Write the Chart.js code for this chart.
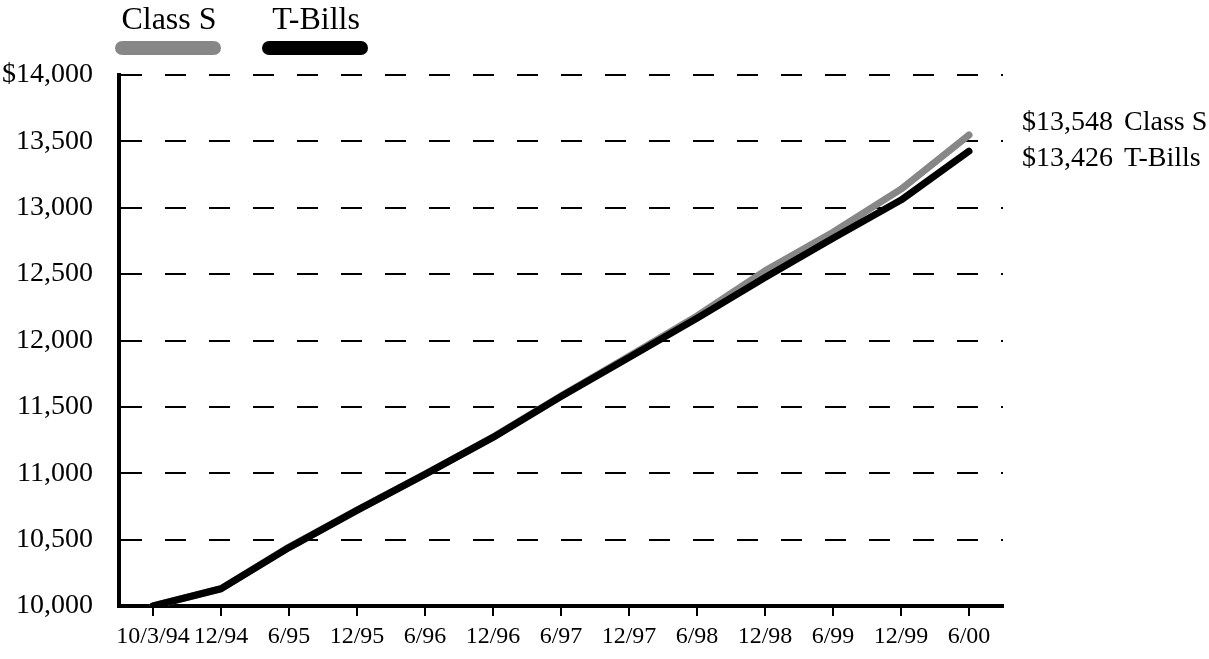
<!DOCTYPE html>
<html>
<head>
<meta charset="utf-8">
<script src="https://cdn.jsdelivr.net/npm/chart.js@4.4.0/dist/chart.umd.min.js"></script>
<style>
  html, body { margin: 0; padding: 0; background: #fff; }
  #wrap { width: 1209px; height: 659px; position: relative; }
</style>
</head>
<body>
<div id="wrap"><canvas id="myChart" width="1209" height="659"></canvas></div>
<script>
const categorias = ["10/3/94", "12/94", "6/95", "12/95", "6/96", "12/96", "6/97", "12/97", "6/98", "12/98", "6/99", "12/99", "6/00"];
const classS = [10000, 10130, 10444, 10723, 10994, 11273, 11582, 11882, 12185, 12525, 12815, 13140, 13548];
const tBills = [10000, 10130, 10440, 10720, 10992, 11270, 11578, 11872, 12168, 12475, 12770, 13058, 13426];
const nomes = ["Class S", "T-Bills"];
const cores = ["#878787", "#000000"];

const fonte = "Liberation Serif";

// legenda no topo: texto acima, barra grossa embaixo
const legendaTopo = {
  id: "legendaTopo",
  afterDraw(chart) {
    const ctx = chart.ctx;
    const itens = [
      { x1: 115, x2: 221 },
      { x1: 262, x2: 368 },
    ];
    ctx.save();
    ctx.font = "32px " + fonte;
    ctx.textAlign = "center";
    ctx.textBaseline = "alphabetic";
    for (let i = 0; i < itens.length; i++) {
      const it = itens[i];
      ctx.fillStyle = "#000";
      ctx.fillText(nomes[i], (it.x1 + it.x2) / 2 + 1, 29);
      ctx.strokeStyle = cores[i];
      ctx.lineWidth = 14;
      ctx.lineCap = "round";
      ctx.beginPath();
      ctx.moveTo(it.x1 + 7, 48);
      ctx.lineTo(it.x2 - 7, 48);
      ctx.stroke();
    }
    ctx.restore();
  },
};

// valores finais do lado direito
const rotulosFinais = {
  id: "rotulosFinais",
  afterDraw(chart) {
    const ctx = chart.ctx;
    const desloc = [-12, 7];
    ctx.save();
    ctx.font = "28px " + fonte;
    ctx.textAlign = "left";
    ctx.textBaseline = "middle";
    ctx.fillStyle = "#000";
    chart.data.datasets.forEach(function (ds, i) {
      const meta = chart.getDatasetMeta(i);
      const ultimo = meta.data[meta.data.length - 1];
      const valor = ds.data[ds.data.length - 1];
      const inicio = "$" + valor.toLocaleString("en-US");
      ctx.fillText(inicio, 1022, ultimo.y + desloc[i]);
      ctx.fillText(ds.label, 1022 + ctx.measureText(inicio).width + 11, ultimo.y + desloc[i]);
    });
    ctx.restore();
  },
};

const data = {
  labels: categorias,
  datasets: [
    {
      label: nomes[0],
      data: classS,
      borderColor: cores[0],
      borderWidth: 7,
      pointRadius: 0,
      borderCapStyle: "round",
      borderJoinStyle: "round",
      tension: 0,
      order: 1,
    },
    {
      label: nomes[1],
      data: tBills,
      borderColor: cores[1],
      borderWidth: 7,
      pointRadius: 0,
      borderCapStyle: "round",
      borderJoinStyle: "round",
      tension: 0,
      order: 0,
    },
  ],
};

const config = {
  type: "line",
  data: data,
  options: {
    responsive: false,
    animation: false,
    layout: { padding: { left: 0, top: 75, right: 206, bottom: 0 } },
    plugins: {
      legend: { display: false },
      tooltip: { enabled: false },
    },
    scales: {
      x: {
        offset: true,
        afterFit: function (scale) { scale.height = 53; },
        border: { display: true, color: "#000", width: 4 },
        grid: {
          display: true,
          drawOnChartArea: false,
          drawTicks: true,
          tickLength: 10,
          offset: false,
          color: "#000",
          lineWidth: 2,
        },
        ticks: {
          color: "#000",
          font: { family: fonte, size: 24 },
          padding: 6,
          maxRotation: 0,
          autoSkip: false,
        },
      },
      y: {
        min: 10000,
        max: 14000,
        afterFit: function (scale) { scale.width = 119; },
        border: { display: true, color: "#000", width: 4, dash: [21, 23] },
        grid: {
          color: "#000",
          lineWidth: 2,
          drawTicks: false,
        },
        ticks: {
          stepSize: 500,
          color: "#000",
          padding: 26,
          font: { family: fonte, size: 28 },
          callback: function (value) {
            const txt = Number(value).toLocaleString("en-US");
            return value === 14000 ? "$" + txt : txt;
          },
        },
      },
    },
  },
  plugins: [legendaTopo, rotulosFinais],
};

const canvas = document.getElementById("myChart");
new Chart(canvas, config);
</script>
</body>
</html>
